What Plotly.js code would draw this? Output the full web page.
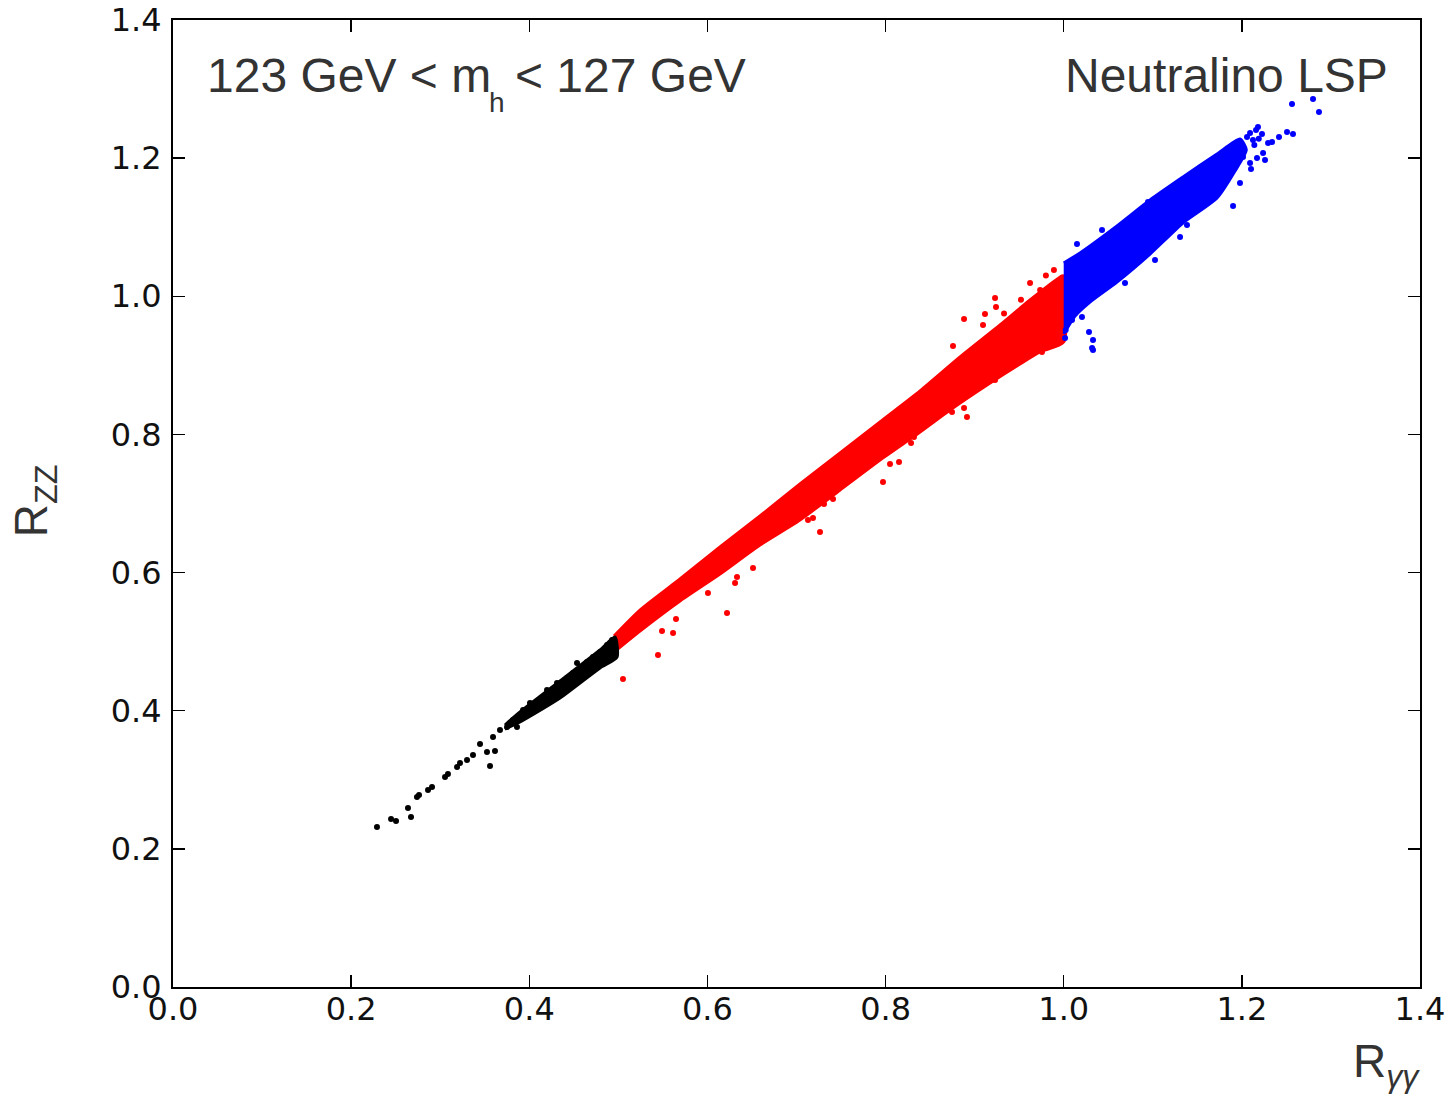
<!DOCTYPE html>
<html>
<head>
<meta charset="utf-8">
<script src="https://cdn.plot.ly/plotly-3.0.1.min.js"></script>
<style>html,body{margin:0;padding:0;background:#fff;}#chart{width:1447px;height:1104px;}</style>
</head>
<body>
<div id="chart"></div>
<script>
// ---- Data (R_gamma-gamma, R_ZZ) ----
// Dense red core outline (upper edge left->right, then lower edge right->left)
const redBandX = [0.4951,0.5243,0.5692,0.6141,0.6590,0.7039,0.7489,0.7938,0.8387,0.8836,0.9285,0.9622,0.9981,1.0000,
                  1.0000,0.9734,0.9509,0.9139,0.8724,0.8387,0.7938,0.7489,0.7039,0.6590,0.6141,0.5692,0.5243,0.4951];
const redBandY = [0.5082,0.5458,0.5907,0.6370,0.6819,0.7282,0.7731,0.8180,0.8629,0.9121,0.9584,0.9946,1.0294,1.0294,
                  0.9338,0.9194,0.9020,0.8716,0.8354,0.8035,0.7630,0.7196,0.6761,0.6399,0.5979,0.5589,0.5154,0.4850];
// Scattered red points outside the dense core
const redPtsX = [0.5052,0.5445,0.5490,0.5614,0.5647,0.6220,0.6006,0.6310,0.6332,0.6512,0.7264,0.7185,0.7129,0.7410,0.7309,
                 0.7971,0.8050,0.8151,0.8286,0.8319,0.8881,0.8757,0.8914,0.8881,0.8746,0.9229,0.9240,0.9116,0.9094,0.9756,
                 0.9229,0.9004,0.9622,0.9735,0.9520,0.9330,0.9890,0.9800];
const redPtsY = [0.4459,0.4807,0.5154,0.5125,0.5328,0.5415,0.5704,0.5849,0.5936,0.6066,0.6588,0.6790,0.6761,0.7065,0.6993,
                 0.7311,0.7572,0.7601,0.7876,0.7963,0.9671,0.9280,0.8253,0.8383,0.8325,0.9975,0.9845,0.9744,0.9585,0.9194,
                 0.8788,0.8658,1.0193,1.0090,0.9950,0.9750,1.0380,1.0300];
// Dense blue core outline
const blueBandX = [1.0000,1.0183,1.0598,1.0969,1.1339,1.1721,1.1979,1.2050,1.1923,1.1721,1.1339,1.0969,1.0598,1.0295,1.0127,1.0000];
const blueBandY = [1.0482,1.0627,1.1018,1.1394,1.1727,1.2060,1.2277,1.2120,1.1814,1.1423,1.1061,1.0612,1.0207,0.9917,0.9715,0.9454];
// Scattered blue points
const bluePtsX = [1.2563,1.2799,1.2866,1.2507,1.2574,1.2417,1.2339,1.2181,1.2092,1.2238,1.2260,1.2170,1.2103,1.1979,1.1901,
                  1.0946,1.0430,1.0149,1.1306,1.1025,1.0688,1.0205,1.0284,1.0329,1.0318,1.0015,1.0093,
                  1.2058,1.2125,1.2013,1.2092,1.2294,1.1384,1.0022,1.0329,1.2159,1.2226,1.2140,1.2190];
const bluePtsY = [1.2784,1.2856,1.2668,1.2379,1.2350,1.2306,1.2234,1.2451,1.2364,1.2075,1.1973,1.2002,1.1843,1.1640,1.1307,
                  1.1365,1.0960,1.0757,1.0859,1.0526,1.0193,0.9700,0.9483,0.9367,0.9251,0.9396,0.9657,
                  1.2306,1.2263,1.2017,1.1930,1.2219,1.1032,0.9512,0.9222,1.2408,1.2350,1.2190,1.2280];
// Dense black core outline
const blackBandX = [0.3727,0.3896,0.4345,0.4794,0.4962,0.4985,0.4794,0.4345,0.3896,0.3727];
const blackBandY = [0.3793,0.3981,0.4430,0.4879,0.5067,0.4778,0.4619,0.4184,0.3837,0.3735];
// Black points
const blackPtsX = [0.2290,0.2448,0.2504,0.2638,0.2672,0.2739,0.2762,0.2863,0.2908,0.3054,0.3087,0.3189,0.3222,0.3301,0.3368,
                   0.3447,0.3525,0.3559,0.3615,0.3593,0.3671,0.3750,0.3817,0.3862,0.3930,0.4008,0.4042,0.4120,0.4199,0.4255,
                   0.4311,0.4345,0.4423,0.4491,0.4569,0.4536,0.4648,0.4715,0.4794,0.4873,0.4929,0.4715,0.4873];
const blackPtsY = [0.2316,0.2432,0.2403,0.2592,0.2461,0.2751,0.2780,0.2852,0.2896,0.3040,0.3084,0.3185,0.3243,0.3287,0.3359,
                   0.3518,0.3402,0.3200,0.3417,0.3620,0.3721,0.3764,0.3866,0.3764,0.4010,0.4112,0.4039,0.4155,0.4300,0.4199,
                   0.4401,0.4343,0.4474,0.4546,0.4590,0.4691,0.4705,0.4778,0.4850,0.4951,0.5024,0.4633,0.4778];
const tickVals = [0,0.2,0.4,0.6,0.8,1.0,1.2,1.4];
const tickText = ['0.0','0.2','0.4','0.6','0.8','1.0','1.2','1.4'];

const RED='#ff0000', BLUE='#0000ff', BLACK='#000000';
function band(x,y,c){return {x:x,y:y,type:'scatter',mode:'lines',fill:'toself',fillcolor:c,line:{color:c,width:3,shape:'spline',smoothing:0.6},hoverinfo:'skip',showlegend:false};}
function pts(x,y,c){return {x:x,y:y,type:'scatter',mode:'markers',marker:{color:c,size:6,line:{width:0}},hoverinfo:'skip',showlegend:false};}

const data = [
  band(redBandX,redBandY,RED), pts(redPtsX,redPtsY,RED),
  band(blueBandX,blueBandY,BLUE), pts(bluePtsX,bluePtsY,BLUE),
  band(blackBandX,blackBandY,BLACK), pts(blackPtsX,blackPtsY,BLACK)
];

const axisCommon = {
  range:[0,1.4], tickvals:tickVals, ticktext:tickText, ticks:'inside', ticklen:12, tickwidth:1.5, tickcolor:'#000',
  mirror:'ticks', showline:true, linewidth:2, linecolor:'#000', showgrid:false, zeroline:false,
  tickfont:{family:'DejaVu Sans', size:32, color:'#111'}, fixedrange:true
};
const TF = {family:'Liberation Sans', size:48, color:'#333'};
const layout = {
  width:1447, height:1104,
  margin:{l:173, r:27, t:20, b:117},
  paper_bgcolor:'#fff', plot_bgcolor:'#fff',
  xaxis:Object.assign({}, axisCommon, {ticklabelstandoff:-7}),
  yaxis:Object.assign({}, axisCommon, {ticklabelstandoff:3}),
  annotations:[
    {xref:'paper', yref:'paper', x:0.0257, y:0.943, xanchor:'left', yanchor:'middle', showarrow:false,
     text:'123 GeV &lt; m', font:TF},
    {xref:'paper', yref:'paper', x:0.2598, y:0.915, xanchor:'center', yanchor:'middle', showarrow:false,
     text:'h', font:{family:'Liberation Sans', size:28, color:'#333'}},
    {xref:'paper', yref:'paper', x:0.4611, y:0.943, xanchor:'right', yanchor:'middle', showarrow:false,
     text:'&lt; 127 GeV', font:TF},
    {xref:'paper', yref:'paper', x:0.9759, y:0.943, xanchor:'right', yanchor:'middle', showarrow:false,
     text:'Neutralino LSP', font:TF},
    {xref:'paper', yref:'paper', x:-0.111, y:0.503, xanchor:'center', yanchor:'middle', textangle:-90, showarrow:false,
     text:'R<sub>ZZ</sub>', font:{family:'Liberation Sans', size:46, color:'#333'}},
    {xref:'paper', yref:'paper', x:0.9735, y:-0.080, xanchor:'center', yanchor:'middle', showarrow:false,
     text:'R<sub><i>γγ</i></sub>', font:{family:'Liberation Sans', size:46, color:'#333'}}
  ]
};
Plotly.newPlot('chart', data, layout, {displayModeBar:false, staticPlot:true});
</script>
</body>
</html>
